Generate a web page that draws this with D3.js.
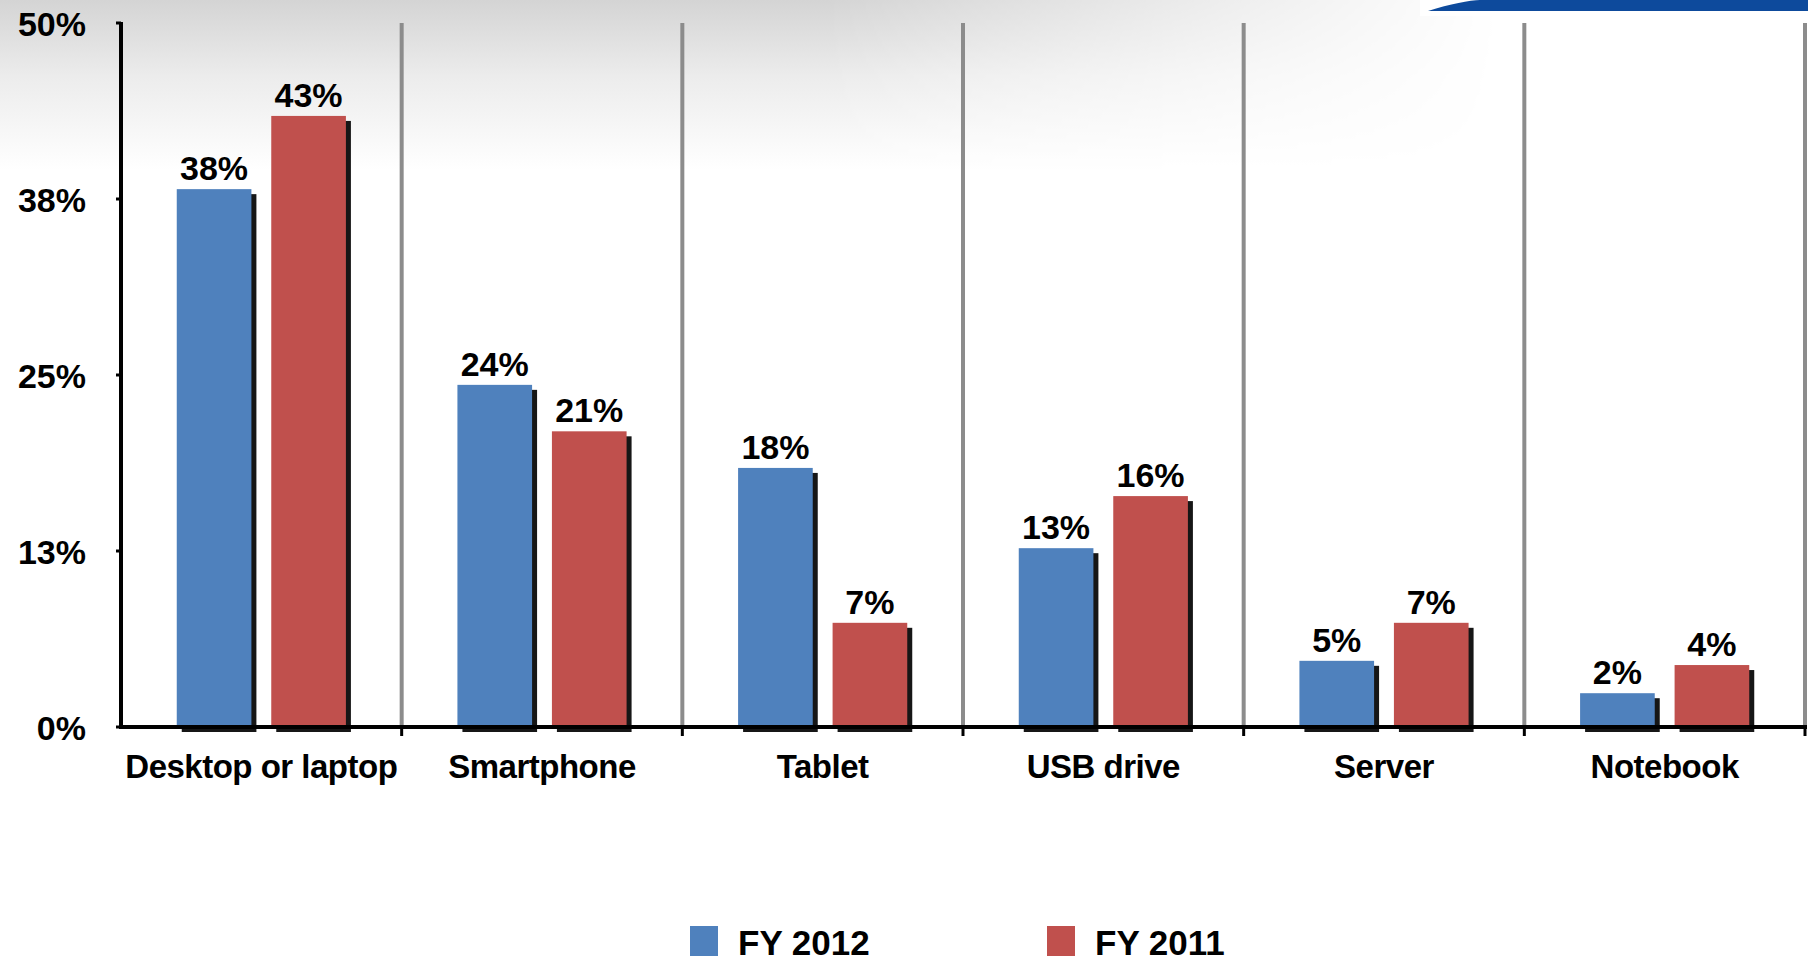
<!DOCTYPE html>
<html>
<head>
<meta charset="utf-8">
<script src="https://cdn.jsdelivr.net/npm/d3@7"></script>
<style>
  html, body { margin: 0; padding: 0; background: #fff; }
  svg { display: block; }
  text { font-family: "Liberation Sans", Arial, sans-serif; font-weight: bold; fill: #000; }
</style>
</head>
<body>
<div id="chart"></div>
<script>
// data
const categories = ['Desktop or laptop', 'Smartphone', 'Tablet', 'USB drive', 'Server', 'Notebook'];
const seriesNames = ['FY 2012', 'FY 2011'];
const fy2012 = [38.2, 24.3, 18.4, 12.7, 4.7, 2.4];
const fy2011 = [43.4, 21.0, 7.4, 16.4, 7.4, 4.4];
const yTicks = [0, 12.5, 25, 37.5, 50];
const colors = ['#4f81bd', '#c0504d'];

const width = 1808;
const height = 961;
const margin = {top: 23, right: 3, bottom: 234, left: 121};

const svg = d3.select('#chart').append('svg')
    .attr('width', width)
    .attr('height', height);

/**
 * BACKGROUND: grey shading on top, blue swoosh top right
 * */
const defs = svg.append('defs');
const vGrad = defs.append('linearGradient').attr('id', 'vgrad')
    .attr('x1', 0).attr('y1', 0).attr('x2', 0).attr('y2', 1);
vGrad.append('stop').attr('offset', '0%').attr('stop-color', '#d4d4d4');
vGrad.append('stop').attr('offset', '45%').attr('stop-color', '#ececec');
vGrad.append('stop').attr('offset', '100%').attr('stop-color', '#ffffff');

const hGrad = defs.append('linearGradient').attr('id', 'hgrad')
    .attr('x1', 0).attr('y1', 0).attr('x2', 1).attr('y2', 0);
hGrad.append('stop').attr('offset', '0%').attr('stop-color', '#fff');
hGrad.append('stop').attr('offset', '55%').attr('stop-color', '#fff');
hGrad.append('stop').attr('offset', '100%').attr('stop-color', '#000');

defs.append('mask').attr('id', 'hmask')
    .append('rect')
    .attr('width', 1500).attr('height', 170)
    .attr('fill', 'url(#hgrad)');

svg.append('rect')
    .attr('width', 1500).attr('height', 170)
    .attr('fill', 'url(#vgrad)')
    .attr('mask', 'url(#hmask)');

svg.append('rect')
    .attr('x', 1420).attr('y', 0)
    .attr('width', width - 1420).attr('height', 16)
    .attr('fill', '#fff');

svg.append('path')
    .attr('d', 'M1428,11 C1450,4 1470,0 1480,0 L1808,0 L1808,11 Z')
    .attr('fill', '#0d4a9c');

/**
 * SCALES
 * */
const x0 = d3.scaleBand()
    .domain(categories)
    .range([margin.left, width - margin.right])
    .paddingInner(0)
    .paddingOuter(0);

const x1 = d3.scaleBand()
    .domain(seriesNames)
    .range([0, x0.bandwidth()])
    .paddingInner(0.21)
    .paddingOuter(0.59);

const y = d3.scaleLinear()
    .domain([0, 50])
    .range([height - margin.bottom, margin.top]);

const fmt = v => `${Math.round(v)}%`;

/**
 * CATEGORY SEPARATORS (grey)
 * */
svg.append('g').attr('class', 'separators')
    .selectAll('line')
    .data(categories)
    .join('line')
    .attr('x1', d => x0(d) + x0.bandwidth())
    .attr('x2', d => x0(d) + x0.bandwidth())
    .attr('y1', y(50))
    .attr('y2', y(0))
    .attr('stroke', '#8c8c8c')
    .attr('stroke-width', 4);

/**
 * BARS
 * */
const rows = categories.map((c, i) => ({
    category: c,
    values: [
        {series: seriesNames[0], value: fy2012[i], color: colors[0]},
        {series: seriesNames[1], value: fy2011[i], color: colors[1]},
    ],
}));

const groups = svg.append('g').attr('class', 'bars')
    .selectAll('g')
    .data(rows)
    .join('g')
    .attr('transform', d => `translate(${x0(d.category)},0)`);

// shadows
groups.selectAll('rect.shadow')
    .data(d => d.values)
    .join('rect')
    .attr('class', 'shadow')
    .attr('x', d => x1(d.series) + 5)
    .attr('y', d => y(d.value) + 5)
    .attr('width', x1.bandwidth())
    .attr('height', d => y(0) - y(d.value))
    .attr('fill', '#161616');

groups.selectAll('rect.bar')
    .data(d => d.values)
    .join('rect')
    .attr('class', 'bar')
    .attr('x', d => x1(d.series))
    .attr('y', d => y(d.value))
    .attr('width', x1.bandwidth())
    .attr('height', d => y(0) - y(d.value))
    .attr('fill', d => d.color);

groups.selectAll('text.value')
    .data(d => d.values)
    .join('text')
    .attr('class', 'value')
    .attr('x', d => x1(d.series) + x1.bandwidth() / 2)
    .attr('y', d => y(d.value) - 9)
    .attr('text-anchor', 'middle')
    .attr('font-size', 34)
    .text(d => fmt(d.value));

/**
 * AXES
 * */
const xAxis = svg.append('g').attr('class', 'x-axis');
xAxis.append('line')
    .attr('x1', margin.left - 2)
    .attr('x2', width - margin.right + 2)
    .attr('y1', y(0))
    .attr('y2', y(0))
    .attr('stroke', '#000')
    .attr('stroke-width', 4);

xAxis.selectAll('line.tick')
    .data(categories)
    .join('line')
    .attr('class', 'tick')
    .attr('x1', d => x0(d) + x0.bandwidth())
    .attr('x2', d => x0(d) + x0.bandwidth())
    .attr('y1', y(0))
    .attr('y2', y(0) + 9)
    .attr('stroke', '#000')
    .attr('stroke-width', 3);

xAxis.selectAll('text')
    .data(categories)
    .join('text')
    .attr('x', d => x0(d) + x0.bandwidth() / 2)
    .attr('y', y(0) + 51)
    .attr('text-anchor', 'middle')
    .attr('font-size', 33)
    .attr('letter-spacing', -0.5)
    .text(d => d);

const yAxis = svg.append('g').attr('class', 'y-axis');
yAxis.append('line')
    .attr('x1', margin.left)
    .attr('x2', margin.left)
    .attr('y1', y(50) - 1)
    .attr('y2', y(0) + 2)
    .attr('stroke', '#000')
    .attr('stroke-width', 4);

yAxis.selectAll('line.tick')
    .data(yTicks)
    .join('line')
    .attr('class', 'tick')
    .attr('x1', margin.left - 5)
    .attr('x2', margin.left)
    .attr('y1', d => y(d))
    .attr('y2', d => y(d))
    .attr('stroke', '#000')
    .attr('stroke-width', 3);

yAxis.selectAll('text')
    .data(yTicks)
    .join('text')
    .attr('x', 86)
    .attr('y', d => y(d) + 13)
    .attr('text-anchor', 'end')
    .attr('font-size', 34)
    .text(d => fmt(d));

/**
 * LEGEND
 * */
const legendX = [690, 1047];
const legend = svg.append('g').attr('class', 'legend')
    .selectAll('g')
    .data(seriesNames)
    .join('g')
    .attr('transform', (d, i) => `translate(${legendX[i]}, 926)`);

legend.append('rect')
    .attr('width', 28)
    .attr('height', 30)
    .attr('fill', (d, i) => colors[i]);

legend.append('text')
    .attr('x', 48)
    .attr('y', 29)
    .attr('font-size', 35)
    .text(d => d);
</script>
</body>
</html>
